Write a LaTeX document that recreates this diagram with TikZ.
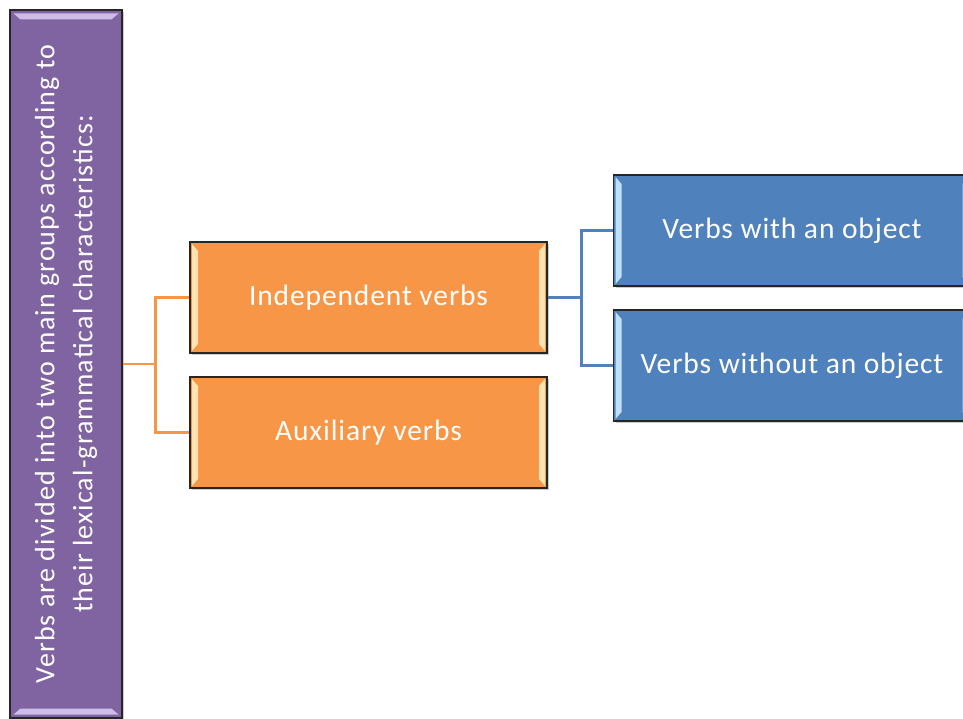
\documentclass[tikz,border=0pt]{standalone}
\usepackage{fontspec}
\setmainfont{Carlito}
\usetikzlibrary{shadows}
\definecolor{grpPurple}{HTML}{8064A2}
\definecolor{grpOrange}{HTML}{F79646}
\definecolor{grpBlue}{HTML}{4F81BD}
\definecolor{litePurple}{HTML}{CDBDE6}
\definecolor{liteOrange}{HTML}{FFE3B0}
\definecolor{liteBlue}{HTML}{BFE0FF}
\tikzset{
  bevel/.style={path picture={
    \fill[#1] ([shift={(2pt,-2pt)}]path picture bounding box.north west)
      -- ([shift={(8pt,-9pt)}]path picture bounding box.north west)
      -- ([shift={(8pt,9pt)}]path picture bounding box.south west)
      -- ([shift={(2pt,2pt)}]path picture bounding box.south west) -- cycle;
    \fill[#1] ([shift={(-2pt,-2pt)}]path picture bounding box.north east)
      -- ([shift={(-8pt,-9pt)}]path picture bounding box.north east)
      -- ([shift={(-8pt,9pt)}]path picture bounding box.south east)
      -- ([shift={(-2pt,2pt)}]path picture bounding box.south east) -- cycle;}},
  box/.style={draw=black!85, line width=1.3pt, text=white, inner sep=0pt,
    minimum width=357pt, minimum height=111pt,
    font=\fontsize{29.5}{34}\selectfont\addfontfeature{LetterSpace=3},
    drop shadow={shadow xshift=2pt,shadow yshift=-2pt,opacity=0.4}},
  olink/.style={grpOrange, line width=2.8pt},
  blink/.style={grpBlue, line width=2.8pt},
}
\begin{document}
\begin{tikzpicture}[x=1pt,y=-1pt]
  \path[use as bounding box, clip] (0,0) rectangle (963,718);
  \node[box, fill=grpPurple, rotate=90,
    minimum width=708pt, minimum height=112pt, align=center,
    font=\fontsize{28}{38}\selectfont\addfontfeature{LetterSpace=4}] (groups) at (66,364)
    {Verbs are divided into two main groups according to\\
     their lexical-grammatical characteristics:};
  % purple bevel, top and bottom
  \fill[litePurple] ([shift={(4pt,-4pt)}]groups.north east) -- ([shift={(-4pt,-4pt)}]groups.south east)
    -- ([shift={(-11pt,-10pt)}]groups.south east) -- ([shift={(11pt,-10pt)}]groups.north east) -- cycle;
  \fill[litePurple] ([shift={(4pt,4pt)}]groups.north west) -- ([shift={(-4pt,4pt)}]groups.south west)
    -- ([shift={(-11pt,10pt)}]groups.south west) -- ([shift={(11pt,10pt)}]groups.north west) -- cycle;
  \node[box, fill=grpOrange, bevel=liteOrange] (indep) at (368.5,297.5) {Independent verbs};
  \node[box, fill=grpOrange, bevel=liteOrange] (aux) at (368.5,432.5) {Auxiliary verbs};
  \node[box, fill=grpBlue, bevel=liteBlue] (withobj) at (792,230.5) {Verbs with an object};
  \node[box, fill=grpBlue, bevel=liteBlue] (noobj) at (792,365.5) {Verbs without an object};
  % connectors
  \draw[olink] (groups.south) -- ++(33,0) |- (indep.west);
  \draw[olink] (groups.south) -- ++(33,0) |- (aux.west);
  \draw[blink] (indep.east) -- ++(34,0) |- (withobj.west);
  \draw[blink] (indep.east) -- ++(34,0) |- (noobj.west);
\end{tikzpicture}
\end{document}
